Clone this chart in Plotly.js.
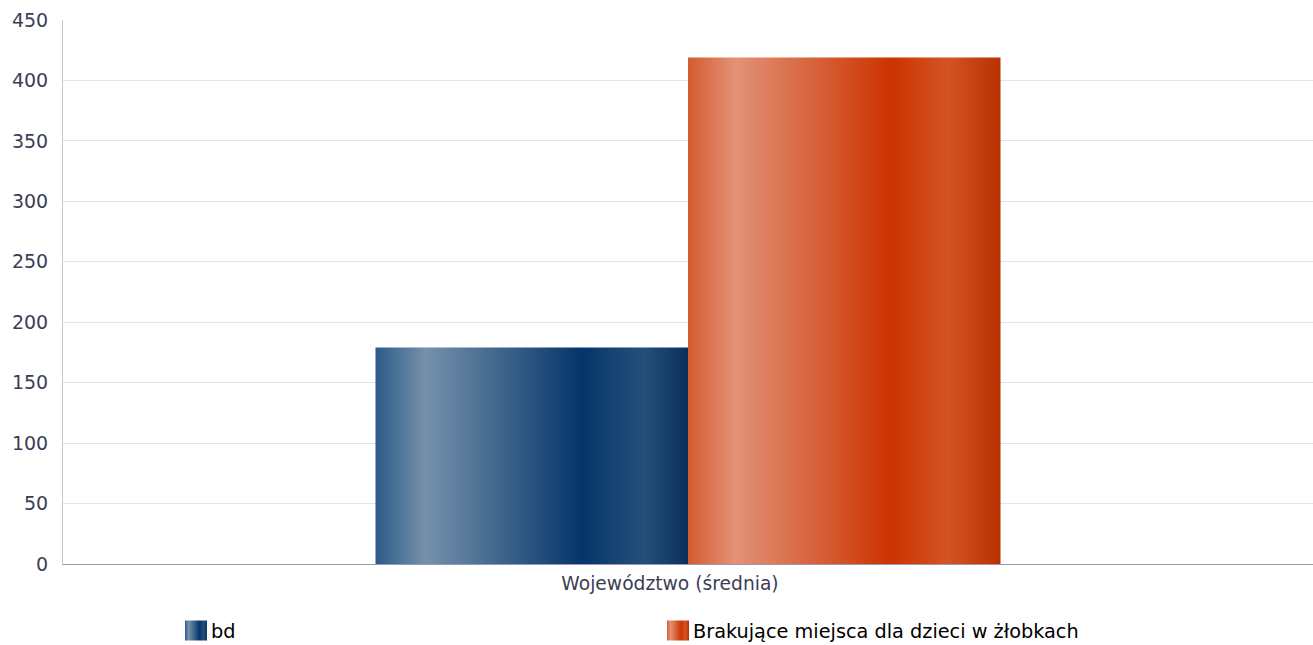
<!DOCTYPE html>
<html>
<head>
<meta charset="utf-8">
<script src="https://cdn.plot.ly/plotly-3.0.1.min.js"></script>
<style>
html,body{margin:0;padding:0;background:#fff;}
#chart{width:1313px;height:645px;}
</style>
</head>
<body>
<div id="chart"></div>
<script>
const categories = ['Województwo (średnia)'];
const seriesNames = ['bd', 'Brakujące miejsca dla dzieci w żłobkach'];
const bdValues = [179];
const brakujaceValues = [419];
const yTickVals = [0, 50, 100, 150, 200, 250, 300, 350, 400, 450];

const FONT = 'DejaVu Sans, sans-serif';

const traces = [
  {type: 'bar', name: seriesNames[0], x: categories, y: bdValues, marker: {color: '#1d4674', line: {width: 0}}},
  {type: 'bar', name: seriesNames[1], x: categories, y: brakujaceValues, marker: {color: '#cf4114', line: {width: 0}}}
];

const layout = {
  width: 1313, height: 645,
  margin: {l: 63, r: 0, t: 20, b: 81, autoexpand: false},
  paper_bgcolor: '#ffffff', plot_bgcolor: '#ffffff',
  barmode: 'group', bargap: 0.5, bargroupgap: 0,
  font: {family: FONT, size: 18, color: '#3d3d55'},
  xaxis: {
    type: 'category', showgrid: false, showline: true, linecolor: '#9a9ab8', linewidth: 1,
    ticks: '', ticklabelshift: -18, ticklabelstandoff: 3, automargin: false,
    tickfont: {family: FONT, size: 18.7, color: '#3d3d55'}, zeroline: false, fixedrange: true
  },
  yaxis: {
    range: [0, 450], tickvals: yTickVals, showgrid: true, gridcolor: '#e3e3ee', gridwidth: 1,
    showline: true, linecolor: '#c4c4da', linewidth: 1, zeroline: false, ticks: '',
    ticklabelstandoff: 10, automargin: false,
    tickfont: {family: FONT, size: 19, color: '#3d3d55'}, fixedrange: true
  },
  showlegend: true,
  legend: {
    orientation: 'h', x: 0.0864, xanchor: 'left', y: 0.0217, yref: 'container', yanchor: 'middle',
    entrywidth: 437, entrywidthmode: 'pixels',
    font: {family: FONT, size: 19.3, color: '#000000'},
    traceorder: 'normal', itemclick: false, itemdoubleclick: false
  }
};

function addGradients(gd) {
  const svg = gd.querySelector('svg.main-svg');
  const ns = 'http://www.w3.org/2000/svg';
  let defs = svg.querySelector('defs');
  if (!defs) { defs = document.createElementNS(ns, 'defs'); svg.insertBefore(defs, svg.firstChild); }
  const grads = {
    gBlue: [[0, '#2b5a88'], [0.16, '#7591ab'], [0.66, '#05356a'], [0.86, '#24507a'], [1, '#0a2f5a']],
    gOrange: [[0, '#d35a30'], [0.15, '#e39277'], [0.65, '#cc3300'], [0.83, '#d45426'], [1, '#b83000']]
  };
  Object.keys(grads).forEach(id => {
    if (defs.querySelector('#' + id)) return;
    const lg = document.createElementNS(ns, 'linearGradient');
    lg.setAttribute('id', id);
    lg.setAttribute('x1', '0'); lg.setAttribute('y1', '0');
    lg.setAttribute('x2', '1'); lg.setAttribute('y2', '0');
    grads[id].forEach(s => {
      const st = document.createElementNS(ns, 'stop');
      st.setAttribute('offset', s[0]);
      st.setAttribute('stop-color', s[1]);
      lg.appendChild(st);
    });
    defs.appendChild(lg);
  });
  const ids = ['gBlue', 'gOrange'];
  gd.querySelectorAll('.barlayer .trace.bars').forEach((t, i) => {
    t.querySelectorAll('path').forEach(p => { p.style.fill = 'url(#' + ids[i] + ')'; });
  });
  gd.querySelectorAll('.legend .traces').forEach((t, i) => {
    t.querySelectorAll('.legendpoints path').forEach(p => {
      p.setAttribute('d', 'M16,10H-6V-10H16Z');
      p.style.fill = 'url(#' + ids[i] + ')';
      p.style.stroke = 'none';
    });
  });
}

Plotly.newPlot('chart', traces, layout, {staticPlot: true, displayModeBar: false}).then(addGradients);
</script>
</body>
</html>
